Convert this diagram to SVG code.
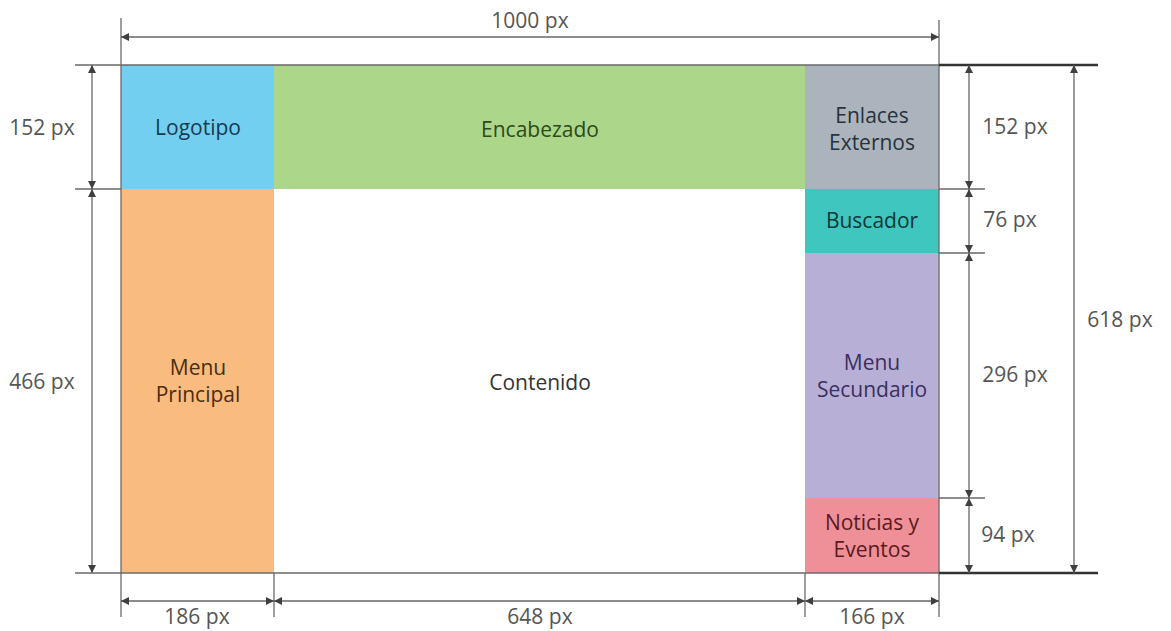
<svg xmlns="http://www.w3.org/2000/svg" width="1171" height="631" viewBox="0 0 1171 631">
<defs>
<marker id="ar" viewBox="0 0 10 10" refX="10" refY="5" markerWidth="10" markerHeight="8" markerUnits="userSpaceOnUse" orient="auto-start-reverse">
<path d="M0,0 L10,5 L0,10 z" fill="#3f3f3f"/>
</marker>
<style>
.lbl{font-family:"Open Sans","DejaVu Sans",sans-serif;font-size:21px;text-anchor:middle}
.dim{font-family:"Open Sans","DejaVu Sans",sans-serif;font-size:21px;fill:#555;text-anchor:middle}
.ln{stroke:#6a6a6a;stroke-width:1.3;fill:none}
.thick{stroke:#333;stroke-width:2.5;fill:none}
.dl{stroke:#666;stroke-width:1.3;fill:none;marker-start:url(#ar);marker-end:url(#ar)}
</style>
</defs>
<rect width="1171" height="631" fill="#fff"/>
<g id="logotipo"><rect x="121" y="65" width="153" height="124" fill="#72cff0"/><text class="lbl" x="198" y="135" fill="#173a52">Logotipo</text></g>
<g id="encabezado"><rect x="274" y="65" width="531" height="124" fill="#acd68a"/><text class="lbl" x="540" y="137" fill="#2d4a1a">Encabezado</text></g>
<g id="enlaces"><rect x="805" y="65" width="134" height="124" fill="#abb4bc"/><text class="lbl" x="872" y="123" fill="#26323d">Enlaces</text><text class="lbl" x="872" y="150" fill="#26323d">Externos</text></g>
<g id="menu-principal"><rect x="121" y="189" width="153" height="384" fill="#f9bc7e"/><text class="lbl" x="198" y="375" fill="#4a2e10">Menu</text><text class="lbl" x="198" y="402" fill="#4a2e10">Principal</text></g>
<g id="contenido"><text class="lbl" x="540" y="390" fill="#333">Contenido</text></g>
<g id="buscador"><rect x="805" y="189" width="134" height="64" fill="#3fc6bf"/><text class="lbl" x="872" y="228" fill="#0e3838">Buscador</text></g>
<g id="menu-secundario"><rect x="805" y="253" width="134" height="245" fill="#b7afd6"/><text class="lbl" x="872" y="370" fill="#3a3060">Menu</text><text class="lbl" x="872" y="397" fill="#3a3060">Secundario</text></g>
<g id="noticias"><rect x="805" y="498" width="134" height="75" fill="#ef8f98"/><text class="lbl" x="872" y="530" fill="#5a1a22">Noticias y</text><text class="lbl" x="872" y="557" fill="#5a1a22">Eventos</text></g>
<g id="connectors">
<path class="ln" d="M121,18 V617 M939,20 V617 M274,573 V617 M805,573 V617"/>
<path class="ln" d="M75,65 H939 M75,189 H121 M75,573 H939"/>
<path class="ln" d="M939,189 H985 M939,253 H985 M939,498 H985"/>
<path class="thick" d="M939,65 H1098 M939,573 H1098"/>
<path class="dl" d="M121,37 H939"/>
<path class="dl" d="M92,65 V189"/>
<path class="dl" d="M92,189 V573"/>
<path class="dl" d="M969,65 V189"/>
<path class="dl" d="M969,189 V253"/>
<path class="dl" d="M969,253 V498"/>
<path class="dl" d="M969,498 V573"/>
<path class="dl" d="M1074,65 V573"/>
<path class="dl" d="M121,601 H274"/>
<path class="dl" d="M274,601 H805"/>
<path class="dl" d="M805,601 H939"/>
</g>
<g id="dims">
<text class="dim" x="530" y="28">1000 px</text>
<text class="dim" x="42" y="135">152 px</text>
<text class="dim" x="42" y="389">466 px</text>
<text class="dim" x="1015" y="134">152 px</text>
<text class="dim" x="1010" y="227">76 px</text>
<text class="dim" x="1015" y="382">296 px</text>
<text class="dim" x="1008" y="542">94 px</text>
<text class="dim" x="1120" y="327">618 px</text>
<text class="dim" x="197" y="624">186 px</text>
<text class="dim" x="540" y="624">648 px</text>
<text class="dim" x="872" y="624">166 px</text>
</g>
</svg>
